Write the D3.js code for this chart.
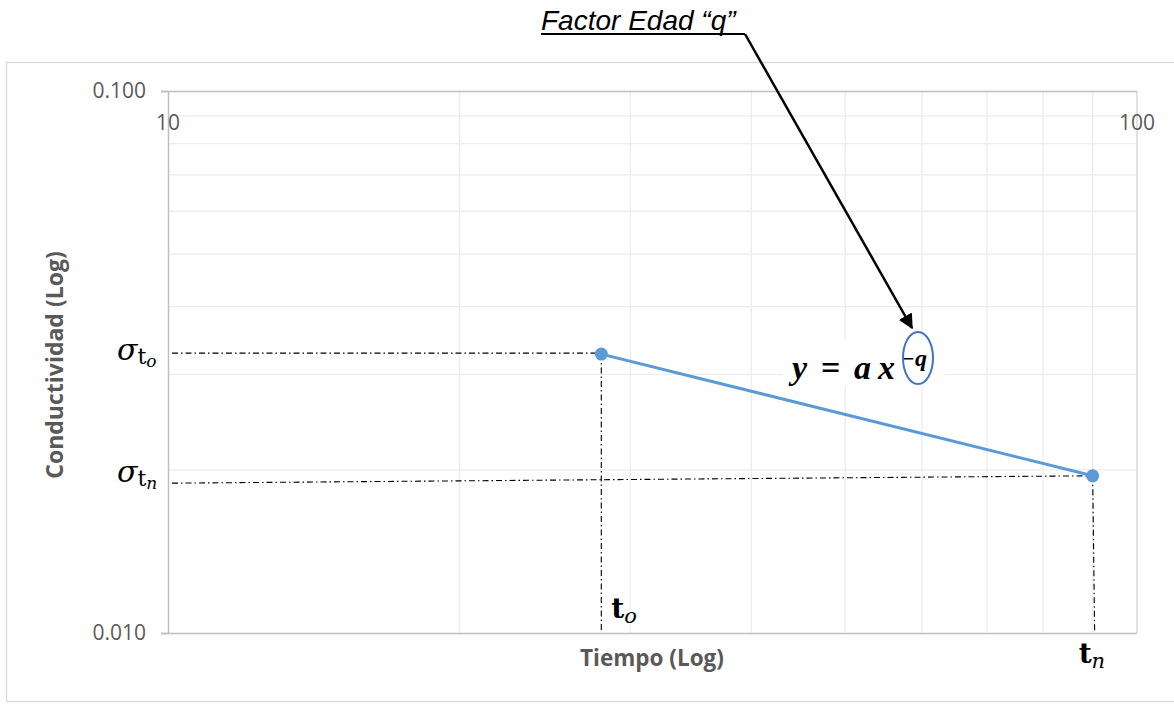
<!DOCTYPE html>
<html>
<head>
<meta charset="utf-8">
<title>Factor Edad q</title>
<script src="https://d3js.org/d3.v7.min.js"></script>
<style>
  body { margin: 0; background: #fff; font-family: "Liberation Sans", Arial, sans-serif; }
  .ticklab { fill: #595959; font-family: "Open Sans", sans-serif; font-size: 21px; }
  .grid line { stroke: #ececec; stroke-width: 1.3; }
  .axis-title { fill: #595959; font-family: "Open Sans", sans-serif; font-weight: bold; font-size: 22.5px; }
  .ref { stroke: #000; stroke-width: 1.1; stroke-dasharray: 6,3,1.5,3; fill: none; }
  .math { font-family: "DejaVu Serif", "Liberation Serif", serif; fill: #000; }
</style>
</head>
<body>
<svg width="1174" height="704"></svg>
<script>
// data
const tiempo = [28, 90];                 // t_o, t_n
const conductividad = [0.0327, 0.0195];  // sigma_to, sigma_tn
const xTicks = [10, 100];
const yTicks = [0.01, 0.1];
const xMinor = [20, 30, 40, 50, 60, 70, 80, 90];
const yMinor = [0.02, 0.03, 0.04, 0.05, 0.06, 0.07, 0.08, 0.09];

const svg = d3.select("svg");

// outer chart border
svg.append("rect")
  .attr("x", 6.5).attr("y", 62.5).attr("width", 1180).attr("height", 639)
  .attr("fill", "none").attr("stroke", "#d9d9d9").attr("stroke-width", 1.3);

const x = d3.scaleLog().domain([10, 100]).range([168, 1137]);
const y = d3.scaleLog().domain([0.01, 0.1]).range([633, 91]);

// minor gridlines
const grid = svg.append("g").attr("class", "grid");
grid.selectAll(".gx").data(xMinor).enter().append("line")
  .attr("x1", d => x(d)).attr("x2", d => x(d))
  .attr("y1", y(0.1)).attr("y2", y(0.01));
grid.selectAll(".gy").data(yMinor).enter().append("line")
  .attr("x1", x(10)).attr("x2", x(100))
  .attr("y1", d => y(d)).attr("y2", d => y(d));

// right border at x = 100
svg.append("line").attr("x1", x(100)).attr("x2", x(100)).attr("y1", y(0.1)).attr("y2", y(0.01))
  .attr("stroke", "#d9d9d9").attr("stroke-width", 1.5);

// y axis
const yAxis = svg.append("g")
  .attr("transform", "translate(" + x(10) + ",0)")
  .call(d3.axisLeft(y).tickValues(yTicks).tickFormat(d3.format(".3f")).tickSize(7).tickPadding(15));
yAxis.select(".domain").attr("stroke", "#bfbfbf").attr("stroke-width", 1.5);
yAxis.selectAll(".tick line").attr("stroke", "#bfbfbf").attr("stroke-width", 1.5)
  .attr("x2", x(100) - x(10)).attr("x1", -7);
yAxis.selectAll(".tick text").attr("class", "ticklab").attr("fill", null);

// x tick labels (sit just under the top line)
svg.selectAll(".xlab").data(xTicks).enter().append("text")
  .attr("class", "ticklab")
  .attr("x", d => x(d)).attr("y", y(0.1) + 39)
  .attr("text-anchor", "middle")
  .text(d => d);

// axis titles
svg.append("text").attr("class", "axis-title")
  .attr("transform", "translate(63," + 365 + ") rotate(-90)")
  .attr("text-anchor", "middle")
  .style("font-size", "23px")
  .text("Conductividad (Log)");
svg.append("text").attr("class", "axis-title")
  .attr("x", 652).attr("y", 666)
  .attr("text-anchor", "middle")
  .text("Tiempo (Log)");

// reference dash-dot lines
svg.append("line").attr("class", "ref")
  .attr("x1", x(10) + 4).attr("x2", x(tiempo[0]))
  .attr("y1", y(conductividad[0]) - 1).attr("y2", y(conductividad[0]) - 1);
svg.append("line").attr("class", "ref")
  .attr("x1", x(tiempo[0])).attr("x2", x(tiempo[0]))
  .attr("y1", y(conductividad[0])).attr("y2", y(0.01) - 2);
svg.append("line").attr("class", "ref")
  .attr("x1", x(10) + 4).attr("x2", x(tiempo[1]))
  .attr("y1", y(0.0189)).attr("y2", y(conductividad[1]));
svg.append("line").attr("class", "ref")
  .attr("x1", x(tiempo[1])).attr("x2", x(tiempo[1]) + 2)
  .attr("y1", y(conductividad[1])).attr("y2", y(0.01));

// series
const pts = tiempo.map((t, i) => ({ t: t, c: conductividad[i] }));
svg.append("path").datum(pts)
  .attr("fill", "none").attr("stroke", "#5b9bd5").attr("stroke-width", 3)
  .attr("d", d3.line().x(d => x(d.t)).y(d => y(d.c)));
svg.selectAll(".pt").data(pts).enter().append("circle")
  .attr("cx", d => x(d.t)).attr("cy", d => y(d.c)).attr("r", 6.5)
  .attr("fill", "#5b9bd5");

// sigma labels
function sigmaLabel(yv, sub) {
  const t = svg.append("text").attr("class", "math")
    .attr("x", x(10) - 51).attr("y", y(yv) + 6);
  t.append("tspan").style("font-size", "30px").style("font-style", "italic").text("σ");
  t.append("tspan").style("font-size", "22px").attr("dy", 4).text("t");
  t.append("tspan").style("font-size", "17px").style("font-style", "italic").attr("dy", 3).text(sub);
}
sigmaLabel(conductividad[0], "o");
sigmaLabel(conductividad[1], "n");

// t labels
function tLabel(xv, yy, sub) {
  const t = svg.append("text").attr("class", "math").attr("x", xv).attr("y", yy);
  t.append("tspan").style("font-size", "28px").style("font-weight", "bold").text("t");
  t.append("tspan").style("font-size", "21px").style("font-style", "italic").attr("dy", 5).text(sub);
}
tLabel(x(tiempo[0]) + 10, 618, "o");
tLabel(x(tiempo[1]) - 14, 663, "n");

// equation box
const ex = 792, ey = 379;
svg.append("rect").attr("x", 783).attr("y", 340).attr("width", 162).attr("height", 45).attr("fill", "#fff");
const eq = svg.append("text").attr("class", "math")
  .attr("y", ey)
  .style("font-family", "Liberation Serif, serif")
  .style("font-size", "34px").style("font-weight", "bold");
eq.append("tspan").attr("x", ex).style("font-style", "italic").text("y");
eq.append("tspan").attr("x", ex + 29).text("=");
eq.append("tspan").attr("x", ex + 62).style("font-style", "italic").text("a");
eq.append("tspan").attr("x", ex + 86).style("font-style", "italic").text("x");
eq.append("tspan").attr("x", ex + 110).attr("y", ey - 13).style("font-size", "22px").text("−");
eq.append("tspan").attr("x", ex + 123).attr("y", ey - 13).style("font-size", "24px").style("font-style", "italic").text("q");

svg.append("ellipse").attr("cx", 918).attr("cy", 358).attr("rx", 15).attr("ry", 26)
  .attr("fill", "none").attr("stroke", "#4472c4").attr("stroke-width", 2);

// title with arrow
svg.append("defs").append("marker")
  .attr("id", "arrow").attr("viewBox", "0 0 10 10").attr("refX", 9).attr("refY", 5)
  .attr("markerWidth", 6).attr("markerHeight", 6).attr("orient", "auto")
  .attr("markerUnits", "strokeWidth")
  .append("path").attr("d", "M0,0 L10,5 L0,10 z").attr("fill", "#000");

svg.append("text")
  .attr("x", 541).attr("y", 30)
  .style("font-family", "Liberation Sans, Arial, sans-serif")
  .style("font-style", "italic").style("font-size", "28px")
  .text("Factor Edad “q”");
svg.append("line").attr("x1", 541).attr("x2", 745).attr("y1", 34).attr("y2", 34)
  .attr("stroke", "#000").attr("stroke-width", 2.2);
svg.append("line").attr("x1", 745).attr("y1", 34).attr("x2", 912).attr("y2", 328)
  .attr("stroke", "#000").attr("stroke-width", 2.5).attr("marker-end", "url(#arrow)");
</script>
</body>
</html>
